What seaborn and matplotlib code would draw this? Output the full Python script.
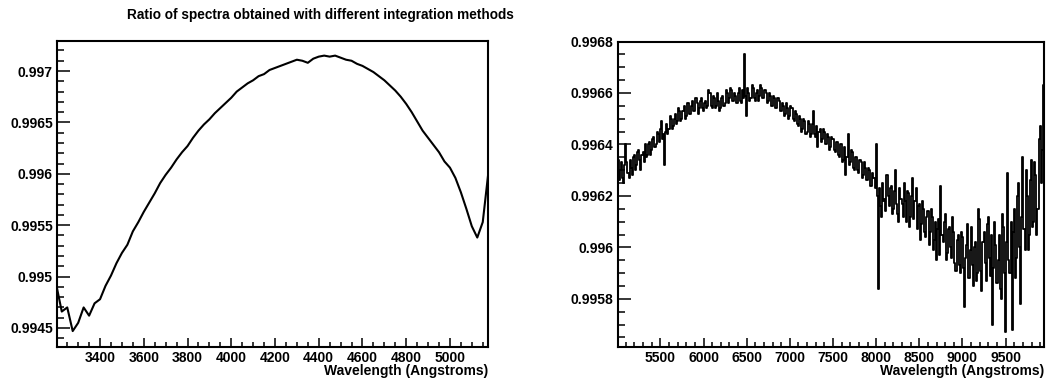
"""
Ratio of spectra obtained with different integration methods
ROOT-style two-panel plot (blue arm / red arm)
"""

import numpy as np
import pandas as pd
import matplotlib
import matplotlib.pyplot as plt
from matplotlib.ticker import MultipleLocator, FuncFormatter
import seaborn as sns

matplotlib.use("Agg")

# ---- data: blue arm (bins of 25 A starting at 3200 A) ----
blue_start, blue_step = 3200, 25
blue_ratio = [
    0.99492, 0.99466, 0.99470, 0.99447, 0.99455, 0.99470, 0.99462, 0.99474,
    0.99478, 0.99491, 0.99501, 0.99513, 0.99523, 0.99531, 0.99544, 0.99553,
    0.99563, 0.99572, 0.99581, 0.99591, 0.99599, 0.99606, 0.99614, 0.99621,
    0.99627, 0.99635, 0.99642, 0.99648, 0.99653, 0.99659, 0.99664, 0.99669,
    0.99674, 0.99680, 0.99684, 0.99688, 0.99691, 0.99695, 0.99697, 0.99701,
    0.99703, 0.99705, 0.99707, 0.99709, 0.99711, 0.99710, 0.99708, 0.99712,
    0.99714, 0.99715, 0.99714, 0.99715, 0.99713, 0.99711, 0.99710, 0.99707,
    0.99705, 0.99702, 0.99699, 0.99695, 0.99691, 0.99686, 0.99681, 0.99675,
    0.99668, 0.99660, 0.99651, 0.99642, 0.99635, 0.99628, 0.99621, 0.99612,
    0.99606, 0.99596, 0.99582, 0.99566, 0.99549, 0.99538, 0.99553, 0.99600,
]

# ---- data: red arm (bins of 12.5 A starting at 5000 A) ----
red_start, red_step = 5000, 12.5
red_ratio = [
    # 5000 - 5487.5
    0.996310, 0.996340, 0.996260, 0.996300, 0.996330, 0.996270, 0.996250, 0.996320,
    0.996400, 0.996330, 0.996290, 0.996270, 0.996340, 0.996310, 0.996280, 0.996350,
    0.996360, 0.996300, 0.996320, 0.996370, 0.996380, 0.996340, 0.996300, 0.996360,
    0.996370, 0.996330, 0.996400, 0.996350, 0.996360, 0.996400, 0.996410, 0.996360,
    0.996380, 0.996420, 0.996430, 0.996390, 0.996400, 0.996450, 0.996440, 0.996410,
    # 5500 - 5987.5
    0.996460, 0.996490, 0.996420, 0.996440, 0.996320, 0.996450, 0.996480, 0.996440,
    0.996460, 0.996510, 0.996500, 0.996460, 0.996470, 0.996500, 0.996520, 0.996480,
    0.996490, 0.996540, 0.996530, 0.996490, 0.996500, 0.996530, 0.996550, 0.996500,
    0.996510, 0.996560, 0.996560, 0.996520, 0.996520, 0.996550, 0.996570, 0.996530,
    0.996530, 0.996580, 0.996560, 0.996520, 0.996540, 0.996570, 0.996580, 0.996540,
    # 6000 - 6487.5
    0.996530, 0.996560, 0.996570, 0.996540, 0.996550, 0.996610, 0.996600, 0.996550,
    0.996540, 0.996590, 0.996580, 0.996540, 0.996550, 0.996600, 0.996570, 0.996530,
    0.996540, 0.996580, 0.996590, 0.996550, 0.996560, 0.996610, 0.996600, 0.996560,
    0.996580, 0.996620, 0.996610, 0.996570, 0.996570, 0.996600, 0.996590, 0.996560,
    0.996600, 0.996620, 0.996570, 0.996560, 0.996610, 0.996580, 0.996750, 0.996590,
    # 6500 - 6987.5
    0.996510, 0.996620, 0.996600, 0.996570, 0.996580, 0.996630, 0.996620, 0.996580,
    0.996570, 0.996600, 0.996610, 0.996570, 0.996590, 0.996630, 0.996620, 0.996580,
    0.996580, 0.996610, 0.996600, 0.996560, 0.996570, 0.996600, 0.996590, 0.996550,
    0.996550, 0.996590, 0.996580, 0.996540, 0.996540, 0.996580, 0.996570, 0.996530,
    0.996530, 0.996560, 0.996550, 0.996510, 0.996520, 0.996560, 0.996540, 0.996500,
    # 7000 - 7487.5
    0.996510, 0.996550, 0.996540, 0.996500, 0.996490, 0.996530, 0.996520, 0.996480,
    0.996470, 0.996510, 0.996500, 0.996450, 0.996460, 0.996500, 0.996490, 0.996440,
    0.996450, 0.996490, 0.996480, 0.996430, 0.996440, 0.996480, 0.996530, 0.996440,
    0.996430, 0.996470, 0.996390, 0.996450, 0.996460, 0.996410, 0.996420, 0.996460,
    0.996450, 0.996400, 0.996400, 0.996440, 0.996430, 0.996380, 0.996390, 0.996430,
    # 7500 - 7987.5
    0.996420, 0.996380, 0.996370, 0.996410, 0.996410, 0.996360, 0.996350, 0.996400,
    0.996400, 0.996330, 0.996340, 0.996390, 0.996280, 0.996350, 0.996440, 0.996320,
    0.996330, 0.996380, 0.996370, 0.996310, 0.996300, 0.996350, 0.996350, 0.996300,
    0.996290, 0.996340, 0.996330, 0.996270, 0.996280, 0.996330, 0.996310, 0.996260,
    0.996260, 0.996310, 0.996300, 0.996240, 0.996240, 0.996290, 0.996270, 0.996230,
    # 8000 - 8487.5
    0.996400, 0.996200, 0.995840, 0.996230, 0.996160, 0.996120, 0.996250, 0.996180,
    0.996190, 0.996140, 0.996280, 0.996200, 0.996160, 0.996230, 0.996240, 0.996130,
    0.996150, 0.996220, 0.996300, 0.996170, 0.996130, 0.996100, 0.996230, 0.996190,
    0.996170, 0.996120, 0.996250, 0.996180, 0.996100, 0.996220, 0.996210, 0.996080,
    0.996120, 0.996200, 0.996270, 0.996110, 0.996180, 0.996230, 0.996070, 0.996160,
    # 8500 - 8987.5
    0.996170, 0.996030, 0.996090, 0.996180, 0.996150, 0.996060, 0.996040, 0.996120,
    0.996140, 0.996010, 0.996060, 0.996150, 0.996120, 0.995990, 0.996030, 0.996100,
    0.995950, 0.996070, 0.996110, 0.995970, 0.996240, 0.996050, 0.996020, 0.996100,
    0.996130, 0.995950, 0.995980, 0.996070, 0.996080, 0.996000, 0.995960, 0.996120,
    0.996060, 0.995940, 0.995910, 0.996030, 0.996050, 0.995930, 0.995900, 0.996060,
    # 9000 - 9487.5
    0.996040, 0.995920, 0.995770, 0.995960, 0.996010, 0.996090, 0.995880, 0.995990,
    0.996080, 0.995930, 0.995850, 0.996000, 0.996020, 0.995870, 0.995900, 0.996150,
    0.996110, 0.995910, 0.995830, 0.996020, 0.996060, 0.995940, 0.995870, 0.996090,
    0.996120, 0.995960, 0.995890, 0.996050, 0.995700, 0.995920, 0.996100, 0.996010,
    0.995860, 0.995950, 0.996050, 0.995840, 0.995800, 0.996130, 0.996080, 0.995900,
    # 9500 - 9937.5
    0.995670, 0.996020, 0.996290, 0.995950, 0.995900, 0.996100, 0.995680, 0.996060,
    0.996150, 0.995880, 0.995960, 0.996200, 0.996250, 0.996000, 0.995780, 0.996120,
    0.996350, 0.996070, 0.995990, 0.996300, 0.996200, 0.995990, 0.996050, 0.996260,
    0.996340, 0.996080, 0.996100, 0.996330, 0.996280, 0.996050, 0.996150, 0.996420,
    0.996470, 0.996250, 0.996380, 0.996630,
]

TITLE = "Ratio of spectra obtained with different integration methods"
XLABEL = "Wavelength (Angstroms)"

blue_df = pd.DataFrame({
    "wavelength": blue_start + blue_step * np.arange(len(blue_ratio)),
    "ratio": blue_ratio,
})
red_df = pd.DataFrame({
    "wavelength": red_start + red_step * np.arange(len(red_ratio)),
    "ratio": red_ratio,
})

sns.set_style("ticks")
plt.rcParams["font.family"] = ["Liberation Sans", "DejaVu Sans"]
plt.rcParams["font.weight"] = "bold"
plt.rcParams["axes.labelcolor"] = "black"
plt.rcParams["text.color"] = "black"

fig = plt.figure(figsize=(10.49, 3.79), dpi=100)
ax1 = fig.add_axes([0.0543, 0.0844, 0.4109, 0.8082])
ax2 = fig.add_axes([0.5887, 0.0844, 0.4066, 0.8061])


def root_style(ax, xmaj, xmin, ymaj, ymin):
    """ROOT-like frame: inward ticks on left/bottom only"""
    for sp in ax.spines.values():
        sp.set_visible(True)
        sp.set_linewidth(1.5)
        sp.set_color("black")
    ax.xaxis.set_major_locator(MultipleLocator(xmaj))
    ax.xaxis.set_minor_locator(MultipleLocator(xmin))
    ax.yaxis.set_major_locator(MultipleLocator(ymaj))
    ax.yaxis.set_minor_locator(MultipleLocator(ymin))
    ax.yaxis.set_major_formatter(FuncFormatter(lambda v, p: f"{round(v, 6):g}"))
    ax.xaxis.set_major_formatter(FuncFormatter(lambda v, p: f"{v:.0f}"))
    ax.tick_params(axis="both", which="both", direction="in", top=False,
                   right=False, width=1.1, colors="black", labelsize=10)
    ax.tick_params(axis="y", which="major", length=9.5, pad=3)
    ax.tick_params(axis="y", which="minor", length=5)
    ax.tick_params(axis="x", which="major", length=6.5, pad=3)
    ax.tick_params(axis="x", which="minor", length=3.6)
    for lab in ax.get_xticklabels() + ax.get_yticklabels():
        lab.set_fontweight("bold")
    ax.set_xlabel(XLABEL, loc="right", fontsize=10, fontweight="bold",
                  labelpad=-1, color="black")
    ax.set_ylabel("")


sns.lineplot(data=blue_df, x="wavelength", y="ratio", ax=ax1, color="black",
             linewidth=1.5, estimator=None)
ax1.set_xlim(3203, 5174)
ax1.set_ylim(0.994315, 0.997295)
root_style(ax1, 200, 50, 0.0005, 0.0001)

# histogram-like drawing, as ROOT does for binned spectra
sns.lineplot(data=red_df, x="wavelength", y="ratio", ax=ax2, color="black",
             linewidth=1.3, estimator=None, drawstyle="steps-mid")
ax2.set_xlim(5004, 9945)
ax2.set_ylim(0.995613, 0.9968)
root_style(ax2, 500, 100, 0.0002, 0.00005)

fig.text(0.305, 0.960, TITLE, ha="center", va="center", fontsize=9.8,
         fontweight="bold")

fig.savefig("out.png", dpi=100)
